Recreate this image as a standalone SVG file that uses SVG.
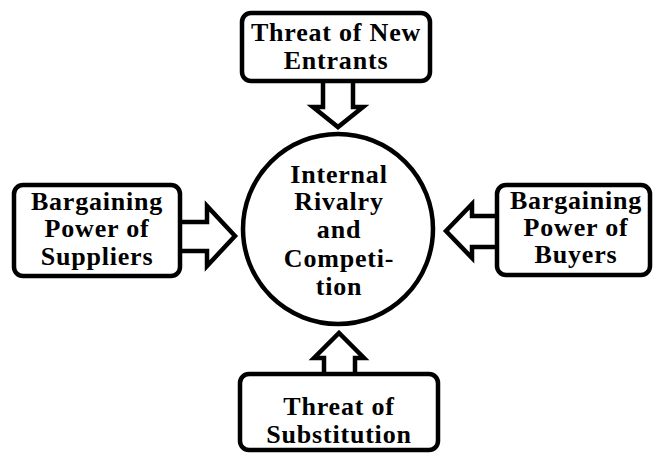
<svg xmlns="http://www.w3.org/2000/svg" width="654" height="455" viewBox="0 0 654 455">
<style>
.box{fill:#fff;stroke:#000;stroke-width:4.5}
.arr{fill:#fff;stroke:#000;stroke-width:4.5;stroke-linejoin:miter;stroke-miterlimit:10}
.t{font-family:"Liberation Serif","Times New Roman",serif;font-weight:bold;font-size:26px;letter-spacing:0.8px;text-anchor:middle;fill:#000}
</style>
<rect width="654" height="455" fill="#fff"/>
<g id="connectors">
<polygon class="arr" points="323,79 323,107 313,107 338,127 363,107 353,107 353,79"/>
<polygon class="arr" points="178,222 207,222 207,206 235,236 207,266 207,251 178,251"/>
<polygon class="arr" points="499,216 472,216 472,204 446,231 472,258 472,247 499,247"/>
<polygon class="arr" points="324,376 324,358 314,358 339,333 364,358 355,358 355,376"/>
</g>
<g id="new-entrants">
<rect class="box" x="242" y="13" width="188" height="68" rx="9"/>
<text class="t" x="336" y="41">Threat of New</text>
<text class="t" x="336" y="69">Entrants</text>
</g>
<g id="suppliers">
<rect class="box" x="14" y="185" width="166" height="91" rx="9"/>
<text class="t" x="97" y="210">Bargaining</text>
<text class="t" x="97" y="237">Power of</text>
<text class="t" x="97" y="265">Suppliers</text>
</g>
<g id="buyers">
<rect class="box" x="497" y="185" width="153" height="90" rx="9"/>
<text class="t" x="576" y="209">Bargaining</text>
<text class="t" x="576" y="236">Power of</text>
<text class="t" x="576" y="263">Buyers</text>
</g>
<g id="substitution">
<rect class="box" x="240" y="374" width="198" height="76" rx="9"/>
<text class="t" x="339" y="415">Threat of</text>
<text class="t" x="339" y="443">Substitution</text>
</g>
<g id="rivalry">
<circle class="box" cx="338" cy="229" r="95"/>
<text class="t" x="339" y="183">Internal</text>
<text class="t" x="339" y="210">Rivalry</text>
<text class="t" x="339" y="238">and</text>
<text class="t" x="339" y="267">Competi-</text>
<text class="t" x="339" y="295">tion</text>
</g>
</svg>
